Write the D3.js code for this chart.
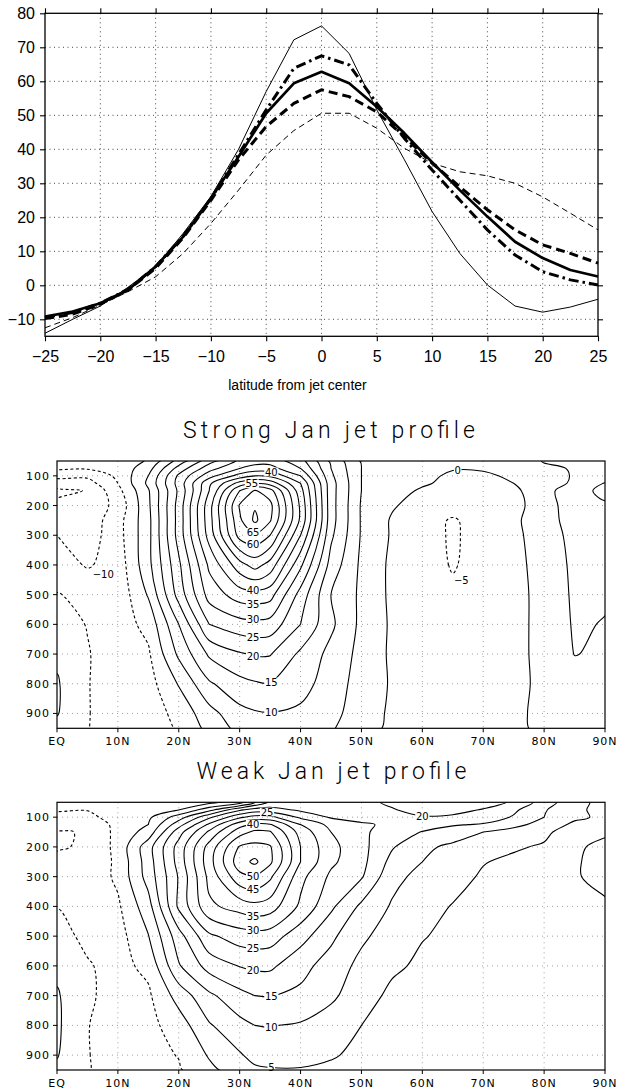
<!DOCTYPE html>
<html>
<head>
<meta charset="utf-8">
<script src="https://cdn.jsdelivr.net/npm/d3@7"></script>
<style>
body { margin: 0; background: #fff; }
svg { display: block; }
</style>
</head>
<body>
<div id="a"></div>
<script>
// ---------- top panel: profiles across the jet
var latOff      = [-25,-22.5,-20,-17.5,-15,-12.5,-10,-7.5,-5,-2.5,0,2.5,5,7.5,10,12.5,15,17.5,20,22.5,25];
var thinSolid   = [-14.1,-10,-6.1,-0.6,5.5,15.3,26.1,40,57,72.2,76.3,68.2,51.6,36.9,21.7,9.4,0.1,-6.1,-7.9,-6.4,-4.1];
var thinDashed  = [-12.5,-9.5,-5.8,-1.9,2.5,9.4,18.2,28,38.3,45.5,50.6,50.6,46.2,40.3,35.9,33.4,32.2,30,26,21.2,16.3];
var thickSolid  = [-9.2,-7.7,-5.3,-1.4,5.5,14.3,25.6,37.8,50.6,59.4,62.8,59.4,52.5,44.7,36.2,28,20.2,12.8,8,4.5,2.6];
var thickDashed = [-9.8,-8.5,-5.5,-1.4,5,14,25,36.9,46.7,53.5,57.5,55.5,51,43.7,35.9,29,22.2,16.3,11.9,9.4,6.5];
var thickDotDash= [-9.5,-8,-5.3,-1.2,5.5,14.5,25.5,38.5,51.6,63.8,67.5,64.8,53.5,43.2,33.9,25.1,16.3,8.9,4,1.6,0.1];
var profXTicks  = [-25,-20,-15,-10,-5,0,5,10,15,20,25];
var profYTicks  = [-10,0,10,20,30,40,50,60,70,80];

// ---------- cross sections: zonal wind on lat x pressure grid
var lats   = [0,5,10,15,20,25,30,32.5,35,40,45,50,55,60,65,70,75,80,85,90];
var levels = [50,75,100,125,150,200,250,300,400,500,600,700,800,900,950];

var strongU = [
 [-1.5,-2,-3,0.5,12,23,31,33,33,27,14,4.5,3.5,2.5,2,2,3,5.2,5.5,5.5],
 [-4.3,-4.5,-3.5,3,17,28,35,37,37,30,15,5,3.5,2,0.3,0.5,2,4.5,5.2,5.5],
 [-8.5,-9,-4,5,21,33,42,45,44,35,16,5,3,1.2,-0.8,-0.8,0.8,4,5.2,6.5],
 [-12.5,-12,-5,6,22,39,52,55,53,40,17,5,2.5,0.5,-1,-1,0,3.5,5.5,10.3],
 [-16,-14.8,-6.5,4.5,21,40,60,65.5,62,42,17,5,1.5,-0.5,-2,-2,-1,3,8.5,11],
 [-14,-13.5,-8.5,4,22,43,65.5,69.5,66.5,44,17,4.5,0.5,-2,-3,-3,-1.5,2.5,8,9.5],
 [-12.5,-13,-7,3.5,22,43,64,71,65.5,44,17,4.5,-0.5,-3,-5.5,-3,-1,3,7,7],
 [-10,-12.5,-7,3.5,22,42,62,64,60,40,16,4.5,-0.5,-3,-5.6,-3.2,-1.2,2.5,6.5,6],
 [-7.5,-10.5,-8,3.5,19,36,48,52,48,31,13,4,-1,-2.5,-5.4,-3,-1.5,2,6,5.5],
 [-4.8,-6,-8.5,0.5,17,32,37.5,38,37,23,10,4,-1,-2.5,-4,-3,-1.5,1.5,5.8,5.5],
 [-3,-5.2,-7.5,-3.5,10,25,28,28.5,28,20,11,3.8,-0.7,-2,-3,-3,-1.5,1.5,5.5,4.8],
 [-1,-4.7,-7.5,-5.7,6,15.8,19.5,20.5,20.3,14,8.5,3.5,-0.8,-2,-3,-3,-1.5,1.5,5.1,4.5],
 [0.5,-4.8,-7.2,-7,0.4,9.3,13.5,14.5,14.8,12,7.5,3,-0.5,-2,-2.5,-2.5,-1.2,1,3,4],
 [0.3,-4.8,-7,-7.5,-3.5,3.2,8.5,9.5,9.8,9,6.5,2.5,-0.8,-2,-2.5,-2.2,-1,1.2,2.5,3],
 [-1.5,-4.9,-6.5,-7.5,-4.5,1.5,6.5,8,8.3,7.5,5.5,2,-1,-2,-2.5,-2,-1,1,2,2.5]
];

var weakU = [
 [-3,-3,-2.5,-2,-1.5,-1.5,2.5,10,16,18,18.5,19.2,20.5,22,22.5,21.5,19.5,12.5,6.5,3.5],
 [-4.5,-4.8,-2.5,-2,-0.2,8,19,22,22,19,17,17.5,19.8,21,21,19.8,16,10.5,6,3.5],
 [-6.5,-6.2,-3,-1,7.5,19,29,32,31.5,24,19.5,18,18.5,19.8,19.5,18,14.5,10,6,4],
 [-8,-7.5,-4,0,13,26,38,41,40.5,30,23.5,20.8,19,17,15.5,14.5,11.5,8,4,3],
 [-10.5,-9.6,-3.5,2,18,31,43,46,45.5,33,25,21,17.5,14.8,12.5,10,8,6,2.5,0.5],
 [-10.4,-9.5,-3.5,8,22,37,50.5,51.5,50.5,35,26.5,21.5,15.5,11,9,6.5,5.5,4.5,0.5,-0.8],
 [-9,-8.8,-4,7.5,22,38,53,56,51,35,26,21.5,13.5,10,7,5.2,4.2,3.2,0.3,-1],
 [-8,-8.5,-4,7,20.5,36.5,48.5,50,46,31.5,24,20.5,11.5,8.5,6.5,4.5,3.5,2.5,0.3,-1],
 [-5.1,-7,-5.8,3,21,34,37,38.5,37.5,29,21,14,9.5,6.5,4.8,4,3.5,3,1.2,0.5],
 [-3.5,-6,-7,-0.2,13,24,27.5,28,27.5,22,16,11,7.5,5.2,4.2,3.5,3,2.5,2,2],
 [-1.2,-4.6,-6.5,-3.8,9.5,17,20.2,21,21,16.5,13,8.5,5.8,4.2,4,3.5,3,3,3,3],
 [0.5,-4.2,-7,-5.8,2,9,13.5,15,15.2,14,11,7,4,3.5,3,3,2.5,2.5,2.5,2.5],
 [0.8,-4.8,-7.5,-6.5,-2.5,4.5,8.5,10,10.2,9.5,7.5,5,3.5,3,2.5,2.5,2.5,2.5,2.5,2.5],
 [0.3,-4.8,-7,-6.5,-4.8,0.5,4.5,6.5,7,6.5,5.5,3.8,3,2.5,2,2,2,2,2,2],
 [-1,-4.8,-6.5,-7,-5.5,-1.2,2.5,4.2,4.6,4.7,4,3,2.5,2,2,2,2,2,2,2]
];

var strongLevels = [-15,-10,-5,0,5,10,15,20,25,30,35,40,45,50,55,60,65,70];
var weakLevels   = [-10,-5,0,5,10,15,20,25,30,35,40,45,50,55];

// contour labels: [value, latitude, approx. pressure]
var strongLabels = [[40,35.2,92],[55,32,126],[65,32.2,291],[60,32.2,331],[40,32.2,483],[35,32.2,530],
  [30,32.2,583],[25,32.2,642],[20,32.2,709],[15,35.2,793],[10,35.2,892],[-10,7.6,432],[-5,66.4,452],[0,65.8,81]];
var weakLabels = [[25,34.5,84],[40,32.2,120],[50,32.2,299],[45,32.2,342],[35,32.2,431],[30,32.2,480],
  [25,32.2,542],[20,32.2,615],[15,35.2,700],[10,35.2,801],[5,35.2,935],[20,60,99]];

var latTicks = [0,10,20,30,40,50,60,70,80,90];
var latTickLabels = ["EQ","10N","20N","30N","40N","50N","60N","70N","80N","90N"];
var presTicks = [100,200,300,400,500,600,700,800,900];

var svg = d3.select("#a").append("svg").attr("width",617).attr("height",1089);
svg.append("rect").attr("width",617).attr("height",1089).attr("fill","#fff");

var minus = function(v){ return v < 0 ? "\u2212" + Math.abs(v) : "" + v; };

// ================= profile panel =================
var px = d3.scaleLinear().domain([-25,25]).range([45,598]);
var py = d3.scaleLinear().domain([-15,80]).range([336.3,13.3]);
var gP = svg.append("g");

gP.selectAll(null).data(profXTicks.slice(1,-1)).enter().append("line")
  .attr("x1",function(d){return px(d);}).attr("x2",function(d){return px(d);})
  .attr("y1",py(80)).attr("y2",py(-15))
  .attr("stroke","#333").attr("stroke-width",0.9).attr("stroke-dasharray","1,3.5");
gP.selectAll(null).data(profYTicks.filter(function(d){return d<80;})).enter().append("line")
  .attr("y1",function(d){return py(d);}).attr("y2",function(d){return py(d);})
  .attr("x1",px(-25)).attr("x2",px(25))
  .attr("stroke","#333").attr("stroke-width",0.9).attr("stroke-dasharray","1,3.5");

function styleAxis(g, fs){
  g.select(".domain").remove();
  g.selectAll(".tick line").attr("stroke","#000").attr("stroke-width",1.1);
  g.selectAll(".tick text").attr("font-family","'Liberation Sans', Arial, sans-serif")
    .attr("font-size",fs).attr("fill","#000");
}
gP.append("g").attr("transform","translate(45,0)")
  .call(d3.axisLeft(py).tickValues(profYTicks).tickSize(5).tickPadding(5).tickFormat(minus))
  .call(styleAxis,16);
gP.append("g").attr("transform","translate(598,0)")
  .call(d3.axisRight(py).tickValues(profYTicks).tickSize(5).tickFormat(""))
  .call(styleAxis,16);
gP.append("g").attr("transform","translate(0,336.3)")
  .call(d3.axisBottom(px).tickValues(profXTicks).tickSize(5).tickPadding(9).tickFormat(minus))
  .call(styleAxis,16);
gP.append("g").attr("transform","translate(0,13.3)")
  .call(d3.axisTop(px).tickValues(profXTicks).tickSize(5).tickFormat(""))
  .call(styleAxis,16);

var profLine = d3.line().x(function(d,i){return px(latOff[i]);}).y(function(d){return py(d);});
var series = [
  {v:thinDashed,  w:1,   dash:"6,4"},
  {v:thinSolid,   w:1,   dash:null},
  {v:thickDashed, w:3,   dash:"9,5"},
  {v:thickDotDash,w:3,   dash:"10,4,2.5,4"},
  {v:thickSolid,  w:2.7, dash:null}
];
gP.selectAll(null).data(series).enter().append("path")
  .attr("d",function(s){return profLine(s.v);})
  .attr("fill","none").attr("stroke","#000")
  .attr("stroke-width",function(s){return s.w;})
  .attr("stroke-dasharray",function(s){return s.dash;})
  .attr("stroke-linejoin","round");

gP.append("rect").attr("x",45).attr("y",13.3).attr("width",553).attr("height",323)
  .attr("fill","none").attr("stroke","#000").attr("stroke-width",1.3);

gP.append("text").attr("x",297.5).attr("y",390).attr("text-anchor","middle")
  .attr("font-family","'Liberation Sans', Arial, sans-serif").attr("font-size",14)
  .text("latitude from jet center");

// ================= cross-section panels =================
function makeField(grid){
  var li = d3.scaleLinear().domain(d3.range(lats.length)).range(lats);
  var pj = d3.scaleLinear().domain(d3.range(levels.length)).range(levels);
  function at(lat, p){
    var fi = li.invert(lat), fj = pj.invert(p);
    var i0 = Math.max(0, Math.min(lats.length-2, Math.floor(fi)));
    var j0 = Math.max(0, Math.min(levels.length-2, Math.floor(fj)));
    var tx = fi - i0, ty = fj - j0;
    return (1-tx)*(1-ty)*grid[j0][i0] + tx*(1-ty)*grid[j0][i0+1]
         + (1-tx)*ty*grid[j0+1][i0] + tx*ty*grid[j0+1][i0+1];
  }
  return {li:li, pj:pj, at:at};
}

// put the label on the nearest crossing of its contour along the latitude
function snapP(f, v, lat, p0){
  var best = p0, bd = Infinity, prev = null, lo = Math.max(50,p0-80), hi = Math.min(950,p0+80);
  for (var p = lo; p <= hi; p += 1){
    var d = f.at(lat,p) - v;
    if (prev !== null && ((prev < 0) !== (d < 0))){
      var pc = p - 1 + prev/(prev - d);
      if (Math.abs(pc-p0) < bd){ bd = Math.abs(pc-p0); best = pc; }
    }
    prev = d;
  }
  return best;
}

function drawPanel(cfg){
  var xs = d3.scaleLinear().domain([0,90]).range([57,605]);
  var ys = d3.scaleLinear().domain([50,950]).range([cfg.top,cfg.bottom]);
  var g = svg.append("g");
  var f = makeField(cfg.grid);

  g.append("text").attr("x",cfg.titleX).attr("y",cfg.titleY).attr("text-anchor","middle")
    .attr("font-family","Roboto, Lato, 'DejaVu Sans', sans-serif").attr("font-weight",300)
    .attr("font-size",23).attr("textLength",cfg.titleW).attr("lengthAdjust","spacing")
    .text(cfg.title);

  g.append("clipPath").attr("id",cfg.id).append("rect")
    .attr("x",xs(0)).attr("y",cfg.top).attr("width",xs(90)-xs(0)).attr("height",cfg.bottom-cfg.top);

  // dotted grid
  g.selectAll(null).data(latTicks.slice(1,-1)).enter().append("line")
    .attr("x1",function(d){return xs(d);}).attr("x2",function(d){return xs(d);})
    .attr("y1",cfg.top).attr("y2",cfg.bottom)
    .attr("stroke","#888").attr("stroke-width",0.8).attr("stroke-dasharray","1,4");
  g.selectAll(null).data(presTicks).enter().append("line")
    .attr("y1",function(d){return ys(d);}).attr("y2",function(d){return ys(d);})
    .attr("x1",xs(0)).attr("x2",xs(90))
    .attr("stroke","#888").attr("stroke-width",0.8).attr("stroke-dasharray","1,4");

  // contours
  var cs = d3.contours().size([lats.length, levels.length]).thresholds(cfg.thresholds)(cfg.grid.flat());
  var proj = function(pt){ return [xs(f.li(pt[0]-0.5)), ys(f.pj(pt[1]-0.5))]; };
  var ring = d3.line().curve(d3.curveCatmullRomClosed.alpha(0.5));
  var cg = g.append("g").attr("clip-path","url(#"+cfg.id+")");
  cs.forEach(function(c){
    var rings = [];
    c.coordinates.forEach(function(poly){
      poly.forEach(function(r){ rings.push(r.slice(0,-1).map(proj)); });
    });
    cg.selectAll(null).data(rings).enter().append("path")
      .attr("d",function(r){return ring(r);})
      .attr("fill","none").attr("stroke","#000").attr("stroke-width",1.1)
      .attr("stroke-dasharray", c.value < 0 ? "3,2.5" : null);
  });

  // contour labels
  var lg = g.append("g").attr("font-family","'DejaVu Sans', sans-serif").attr("font-size",10);
  cfg.labels.forEach(function(l){
    var p = snapP(f, l[0], l[1], l[2]);
    var t = minus(l[0]);
    var x = xs(l[1]), y = ys(p);
    var w = t.length*6.6 + 1;
    lg.append("rect").attr("x",x-w/2).attr("y",y-4.4).attr("width",w).attr("height",8.8).attr("fill","#fff");
    lg.append("text").attr("x",x).attr("y",y+3.7).attr("text-anchor","middle").text(t);
  });

  g.append("rect").attr("x",xs(0)).attr("y",cfg.top).attr("width",xs(90)-xs(0)).attr("height",cfg.bottom-cfg.top)
    .attr("fill","none").attr("stroke","#000").attr("stroke-width",1.2);

  // axes
  var tf = "'DejaVu Sans', sans-serif";
  g.selectAll(null).data(presTicks).enter().append("line")
    .attr("x1",xs(0)-4).attr("x2",xs(0)).attr("y1",function(d){return ys(d);}).attr("y2",function(d){return ys(d);})
    .attr("stroke","#000");
  g.selectAll(null).data(presTicks).enter().append("text")
    .attr("x",xs(0)-7).attr("y",function(d){return ys(d)+4;}).attr("text-anchor","end")
    .attr("font-family",tf).attr("font-size",11).attr("letter-spacing",1).text(function(d){return d;});
  g.selectAll(null).data(latTicks).enter().append("line")
    .attr("x1",function(d){return xs(d);}).attr("x2",function(d){return xs(d);})
    .attr("y1",cfg.bottom).attr("y2",cfg.bottom+4).attr("stroke","#000");
  g.selectAll(null).data(latTicks).enter().append("text")
    .attr("x",function(d){return xs(d);}).attr("y",cfg.bottom+17).attr("text-anchor","middle")
    .attr("font-family",tf).attr("font-size",11).attr("letter-spacing",1)
    .text(function(d,i){return latTickLabels[i];});
}

drawPanel({id:"clipS", top:461, bottom:728.3, grid:strongU, thresholds:strongLevels, labels:strongLabels,
  title:"Strong Jan jet profile", titleX:329, titleY:438, titleW:292});
drawPanel({id:"clipW", top:802.3, bottom:1070, grid:weakU, thresholds:weakLevels, labels:weakLabels,
  title:"Weak Jan jet profile", titleX:331.5, titleY:779, titleW:270});
</script>
</body>
</html>
